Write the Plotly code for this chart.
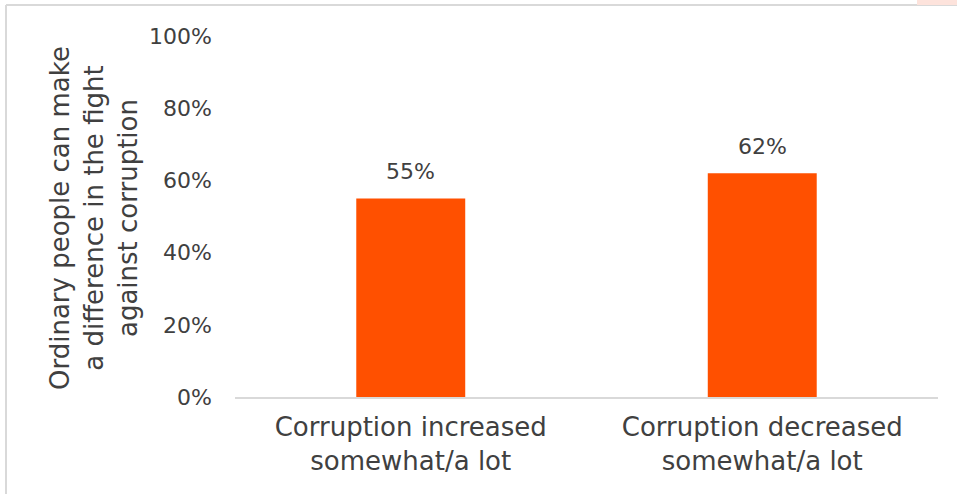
import plotly.graph_objects as go

categories = ["Corruption increased<br>somewhat/a lot", "Corruption decreased<br>somewhat/a lot"]
values = [0.55, 0.62]
y_ticks = [0, 0.2, 0.4, 0.6, 0.8, 1.0]
y_title = "Ordinary people can make<br>a difference in the fight<br>against corruption"

W, H = 957, 494
L, R, T, B = 235, 938, 36, 397  # plot area pixels
FONT = "DejaVu Sans"
TXT = "#404040"

def px_x(x):
    return (x - L) / (R - L)

def px_y(y):
    return (B - y) / (B - T)

fig = go.Figure(go.Bar(
    x=categories, y=values,
    marker=dict(color="#ff5000", line=dict(width=0)),
    hoverinfo="x+y",
))

value_labels = [
    dict(x=c, y=v, xref="x", yref="y", text=f"{v:.0%}", showarrow=False,
         xanchor="center", yanchor="middle", yshift=27,
         font=dict(family=FONT, size=22, color=TXT))
    for c, v in zip(categories, values)
]

fig.update_layout(
    width=W, height=H,
    margin=dict(l=L, r=W - R, t=T, b=H - B, pad=0),
    paper_bgcolor="white", plot_bgcolor="white",
    bargap=0.69,
    showlegend=False,
    font=dict(family=FONT, color=TXT),
    xaxis=dict(showgrid=False, showline=True, linecolor="#d9d9d9", linewidth=2,
               ticks="", ticklabelstandoff=6,
               tickfont=dict(family=FONT, size=26, color=TXT)),
    yaxis=dict(range=[0, 1], tickvals=y_ticks, tickformat=".0%", showgrid=False,
               zeroline=False, showline=False, ticks="",
               ticklabelstandoff=22,
               tickfont=dict(family=FONT, size=22, color=TXT)),
    shapes=[
        dict(type="line", xref="paper", yref="paper", x0=px_x(6), x1=px_x(957),
             y0=px_y(5), y1=px_y(5), line=dict(color="#d9d9d9", width=2)),
        dict(type="line", xref="paper", yref="paper", x0=px_x(6), x1=px_x(6),
             y0=px_y(5), y1=px_y(494), line=dict(color="#d9d9d9", width=2)),
        dict(type="rect", xref="paper", yref="paper", x0=px_x(917), x1=px_x(957),
             y0=px_y(0), y1=px_y(5), fillcolor="#fde3dc", line=dict(width=0)),
    ],
    annotations=value_labels + [
        dict(text=y_title, xref="paper", yref="paper", x=px_x(94), y=px_y(218),
             textangle=-90, showarrow=False, xanchor="center", yanchor="middle",
             font=dict(family=FONT, size=26, color=TXT), align="center"),
    ],
)

fig.write_html("out.html")
